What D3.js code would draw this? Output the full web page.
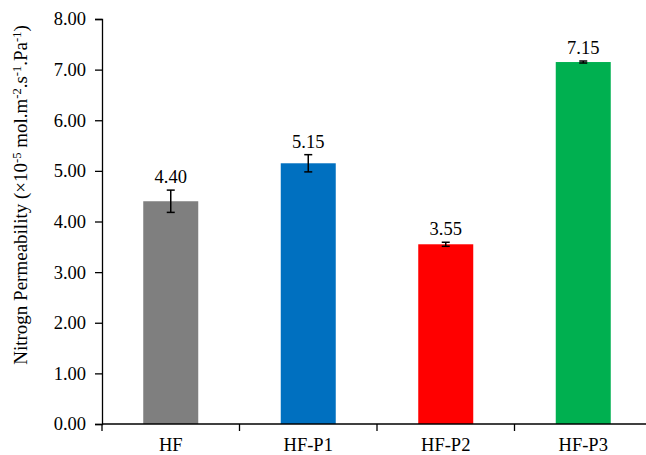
<!DOCTYPE html>
<html>
<head>
<meta charset="utf-8">
<script src="https://cdn.jsdelivr.net/npm/d3@7"></script>
<style>
  html, body { margin: 0; padding: 0; background: #fff; }
  svg { display: block; }
</style>
</head>
<body>
<svg id="chart" width="646" height="455"></svg>
<script>
// Nitrogen permeability per hollow-fibre sample
const categories = ["HF", "HF-P1", "HF-P2", "HF-P3"];
const values = [4.40, 5.15, 3.55, 7.15];
const errors = [0.22, 0.17, 0.04, 0.02];
const colors = ["#7f7f7f", "#0070c0", "#ff0000", "#00b050"];
const yTicks = [0, 1, 2, 3, 4, 5, 6, 7, 8];

const FONT = "'Liberation Serif', 'Times New Roman', serif";
const svg = d3.select("#chart");
const plotLeft = 102, plotRight = 652, plotTop = 19, plotBottom = 424;

const x = d3.scaleBand().domain(categories).range([plotLeft, plotRight]).paddingInner(0.6).paddingOuter(0.3);
const y = d3.scaleLinear().domain([0, 8]).range([plotBottom, plotTop]);

// Y axis
const yAxis = svg.append("g")
  .attr("transform", `translate(${plotLeft},0)`)
  .call(d3.axisLeft(y).tickValues(yTicks).tickFormat(d3.format(".2f")).tickSize(7).tickPadding(9));
yAxis.attr("font-family", FONT);
yAxis.select(".domain").attr("stroke", "#000").attr("stroke-width", 1.3);
yAxis.selectAll(".tick line").attr("stroke", "#000").attr("stroke-width", 1.3);
yAxis.selectAll(".tick text").attr("font-size", 18.5).attr("font-family", FONT).attr("fill", "#000");

// Bars
const data = categories.map((c, i) => ({ c, v: values[i], e: errors[i], col: colors[i] }));
svg.append("g").selectAll("rect").data(data).join("rect")
  .attr("x", d => x(d.c))
  .attr("width", x.bandwidth())
  .attr("y", d => y(d.v))
  .attr("height", d => y(0) - y(d.v))
  .attr("fill", d => d.col);

// X axis with ticks on category boundaries
const xAxisG = svg.append("g").attr("transform", `translate(0,${plotBottom})`);
xAxisG.append("line").attr("x1", plotLeft).attr("x2", plotRight).attr("stroke", "#000").attr("stroke-width", 1.3);
const step = x.step();
const bounds = d3.range(categories.length + 1).map(i => plotLeft + i * step);
xAxisG.selectAll(".xt").data(bounds).join("line")
  .attr("x1", d => d).attr("x2", d => d).attr("y1", 0).attr("y2", 7)
  .attr("stroke", "#000").attr("stroke-width", 1.3);
xAxisG.selectAll(".xl").data(categories).join("text")
  .attr("x", d => x(d) + x.bandwidth() / 2)
  .attr("y", 27)
  .attr("text-anchor", "middle")
  .attr("font-family", FONT)
  .attr("font-size", 18.5)
  .text(d => d);

// Error bars
const eb = svg.append("g").attr("stroke", "#000").attr("stroke-width", 1.5);
data.forEach(d => {
  const cx = x(d.c) + x.bandwidth() / 2;
  eb.append("line").attr("x1", cx).attr("x2", cx).attr("y1", y(d.v + d.e)).attr("y2", y(d.v - d.e));
  eb.append("line").attr("x1", cx - 4).attr("x2", cx + 4).attr("y1", y(d.v + d.e)).attr("y2", y(d.v + d.e));
  eb.append("line").attr("x1", cx - 4).attr("x2", cx + 4).attr("y1", y(d.v - d.e)).attr("y2", y(d.v - d.e));
});

// Value labels
svg.append("g").selectAll("text").data(data).join("text")
  .attr("x", d => x(d.c) + x.bandwidth() / 2)
  .attr("y", d => y(d.v + d.e) - 7)
  .attr("text-anchor", "middle")
  .attr("font-family", FONT)
  .attr("font-size", 18.5)
  .text(d => d.v.toFixed(2));

// Y axis title
const title = svg.append("text")
  .attr("transform", "translate(27,195) rotate(-90)")
  .attr("text-anchor", "middle")
  .attr("font-family", FONT)
  .attr("font-size", 19);
title.append("tspan").text("Nitrogn Permeability (×10");
title.append("tspan").attr("dy", -6).attr("font-size", 12.5).text("-5");
title.append("tspan").attr("dy", 6).text(" mol.m");
title.append("tspan").attr("dy", -6).attr("font-size", 12.5).text("-2");
title.append("tspan").attr("dy", 6).text(".s");
title.append("tspan").attr("dy", -6).attr("font-size", 12.5).text("-1");
title.append("tspan").attr("dy", 6).text(".Pa");
title.append("tspan").attr("dy", -6).attr("font-size", 12.5).text("-1");
title.append("tspan").attr("dy", 6).text(")");
</script>
</body>
</html>
